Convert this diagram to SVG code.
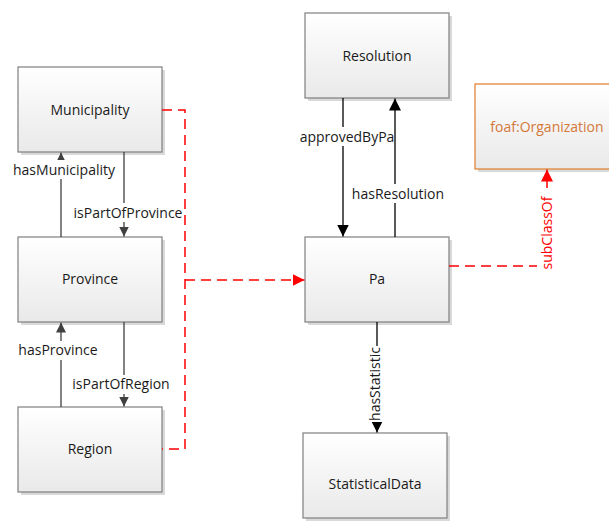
<svg xmlns="http://www.w3.org/2000/svg" width="609" height="523" viewBox="0 0 609 523">
  <defs>
    <linearGradient id="boxFill" x1="0" y1="0" x2="0" y2="1">
      <stop offset="0" stop-color="#ffffff"/>
      <stop offset="1" stop-color="#e9e9e9"/>
    </linearGradient>
    <marker id="arrowGray" viewBox="0 0 10 10" refX="10" refY="5" markerWidth="10" markerHeight="10" markerUnits="userSpaceOnUse" orient="auto">
      <path d="M0,0 L10,5 L0,10 Z" fill="#404040"/>
    </marker>
    <marker id="arrowBlack" viewBox="0 0 10 10" refX="10" refY="5" markerWidth="12" markerHeight="12" markerUnits="userSpaceOnUse" orient="auto">
      <path d="M0,0 L10,5 L0,10 Z" fill="#000000"/>
    </marker>
    <marker id="arrowRed" viewBox="0 0 10 10" refX="10" refY="5" markerWidth="12" markerHeight="12" markerUnits="userSpaceOnUse" orient="auto">
      <path d="M0,0 L10,5 L0,10 Z" fill="#ff0000"/>
    </marker>
  </defs>
  <style>
    .shadow { fill: #d9d9d9; }
    .box { fill: url(#boxFill); stroke: #7f7f7f; stroke-width: 1.2; }
    .box.ext { stroke: #e07d2a; }
    .name { font-family: "Open Sans", "Liberation Sans", sans-serif; font-size: 14px; fill: #1a1a1a; text-anchor: middle; }
    .name.ext { fill: #d4783a; }
    .lbl { font-family: "Open Sans", "Liberation Sans", sans-serif; font-size: 14px; fill: #1a1a1a; text-anchor: middle; }
    .lbl.red { fill: #ff0000; }
    .gray { fill: none; stroke: #404040; stroke-width: 1.3; }
    .black { fill: none; stroke: #000000; stroke-width: 1.3; }
    .dash { fill: none; stroke: #ff0000; stroke-width: 1.5; stroke-dasharray: 10 6; }
    .bg { fill: #ffffff; }
  </style>

  <!-- classes -->
  <g id="municipality">
    <rect class="shadow" x="21" y="70" width="144" height="85"/>
    <rect class="box" x="18" y="67" width="144" height="85"/>
    <text class="name" x="90" y="115">Municipality</text>
  </g>
  <g id="province">
    <rect class="shadow" x="21" y="240" width="144" height="85"/>
    <rect class="box" x="18" y="237" width="144" height="85"/>
    <text class="name" x="90" y="284">Province</text>
  </g>
  <g id="region">
    <rect class="shadow" x="21" y="410" width="144" height="85"/>
    <rect class="box" x="18" y="407" width="144" height="85"/>
    <text class="name" x="90" y="454">Region</text>
  </g>
  <g id="resolution">
    <rect class="shadow" x="308" y="16" width="144" height="85"/>
    <rect class="box" x="305" y="13" width="144" height="85"/>
    <text class="name" x="377" y="61">Resolution</text>
  </g>
  <g id="pa">
    <rect class="shadow" x="308" y="240" width="144" height="85"/>
    <rect class="box" x="305" y="237" width="144" height="85"/>
    <text class="name" x="377" y="284">Pa</text>
  </g>
  <g id="statisticalData">
    <rect class="shadow" x="306" y="436" width="144" height="85"/>
    <rect class="box" x="303" y="433" width="144" height="85"/>
    <text class="name" x="375" y="489">StatisticalData</text>
  </g>
  <g id="foafOrganization">
    <rect class="shadow" x="478" y="87" width="144" height="85"/>
    <rect class="box ext" x="475" y="84" width="144" height="85"/>
    <text class="name ext" x="547" y="132">foaf:Organization</text>
  </g>

  <!-- connectors -->
  <g id="connectors">
    <!-- hasMunicipality -->
    <path class="gray" d="M61,237 V152.5" marker-end="url(#arrowGray)"/>
    <rect class="bg" x="11" y="160" width="106" height="19"/>
    <text class="lbl" x="64" y="175">hasMunicipality</text>
    <!-- isPartOfProvince -->
    <path class="gray" d="M124,152 V236.5" marker-end="url(#arrowGray)"/>
    <rect class="bg" x="71" y="203" width="114" height="19"/>
    <text class="lbl" x="128" y="218">isPartOfProvince</text>
    <!-- hasProvince -->
    <path class="gray" d="M61,407 V322.5" marker-end="url(#arrowGray)"/>
    <rect class="bg" x="17" y="341" width="84" height="19"/>
    <text class="lbl" x="58" y="355">hasProvince</text>
    <!-- isPartOfRegion -->
    <path class="gray" d="M124,322 V406.5" marker-end="url(#arrowGray)"/>
    <rect class="bg" x="71" y="375" width="101" height="19"/>
    <text class="lbl" x="121" y="389">isPartOfRegion</text>

    <!-- approvedByPa -->
    <path class="black" d="M343,98 V236.5" marker-end="url(#arrowBlack)"/>
    <rect class="bg" x="300" y="127" width="94" height="19"/>
    <text class="lbl" x="347" y="142">approvedByPa</text>
    <!-- hasResolution -->
    <path class="black" d="M395,237 V98.5" marker-end="url(#arrowBlack)"/>
    <rect class="bg" x="350" y="184" width="96" height="19"/>
    <text class="lbl" x="398" y="199">hasResolution</text>
    <!-- hasStatistic -->
    <path class="black" d="M377,322 V432.5" marker-end="url(#arrowBlack)"/>
    <rect class="bg" x="366" y="346" width="19" height="76"/>
    <text class="lbl" transform="translate(380,384) rotate(-90)">hasStatistic</text>

    <!-- municipality / province / region ⊑ pa -->
    <path class="dash" d="M162,110 H185 V449 H162"/>
    <path class="dash" d="M185,280 H304.5" marker-end="url(#arrowRed)"/>
    <!-- subClassOf -->
    <path class="dash" d="M449,266 H547 V169.5" marker-end="url(#arrowRed)"/>
    <rect class="bg" x="537" y="192" width="19" height="82"/>
    <text class="lbl red" transform="translate(552,233) rotate(-90)">subClassOf</text>
  </g>
</svg>
